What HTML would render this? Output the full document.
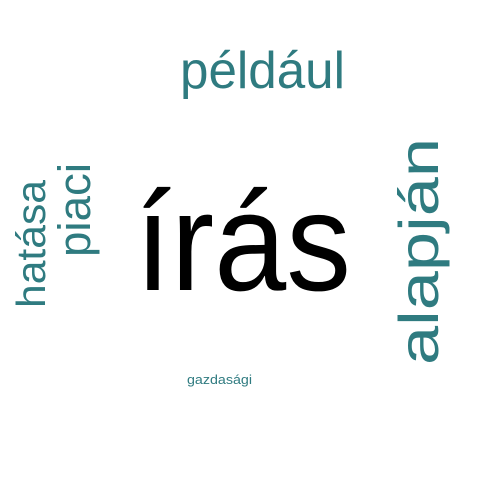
<!DOCTYPE html>
<html><head><meta charset="utf-8"><style>html,body{margin:0;padding:0;background:#fff}svg{display:block}text{font-family:"Liberation Sans",Arial,sans-serif}</style></head>
<body>
<svg width="480" height="480" viewBox="0 0 480 480">
<rect width="480" height="480" fill="#fff"/>
<text x="135" y="290" font-size="140" fill="#000" textLength="216" lengthAdjust="spacingAndGlyphs">írás</text>
<text x="180" y="88" font-size="52" fill="#2f7b80" textLength="165" lengthAdjust="spacingAndGlyphs">például</text>
<text transform="translate(438,365) rotate(-90)" font-size="56" fill="#2f7b80" textLength="227" lengthAdjust="spacingAndGlyphs">alapján</text>
<text transform="translate(90,257) rotate(-90)" font-size="45" fill="#2f7b80" textLength="94" lengthAdjust="spacingAndGlyphs">piaci</text>
<text transform="translate(45,308) rotate(-90)" font-size="41" fill="#2f7b80" textLength="128" lengthAdjust="spacingAndGlyphs">hatása</text>
<text x="187" y="384" font-size="13" fill="#2f7b80" textLength="65" lengthAdjust="spacingAndGlyphs">gazdasági</text>
</svg>
</body></html>
